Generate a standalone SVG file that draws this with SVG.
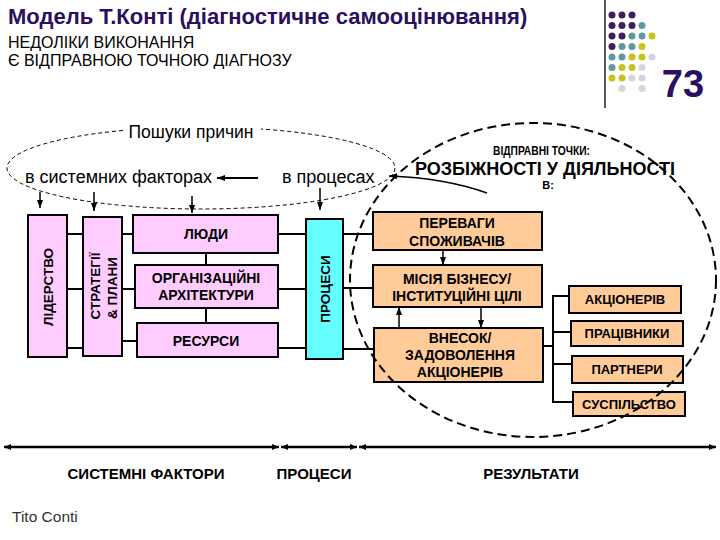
<svg xmlns="http://www.w3.org/2000/svg" width="720" height="540" viewBox="0 0 720 540">
<style>
text{font-family:"Liberation Sans",Arial,sans-serif;fill:#000}
.b{font-weight:bold}
.pk{fill:#ffccff;stroke:#000;stroke-width:2}
.cy{fill:#66ffff;stroke:#000;stroke-width:2}
.or{fill:#ffcc99;stroke:#000;stroke-width:2}
.ln{stroke:#000;stroke-width:2;fill:none}
.th{stroke:#000;stroke-width:1.5;fill:none}
.bx{font-size:14px;font-weight:bold;text-anchor:middle}
.sm{font-size:13px;font-weight:bold;text-anchor:middle}
.ax{font-size:15px;font-weight:bold;text-anchor:middle}
.p{fill:#3d1f5e}.t{fill:#5e98a0}.y{fill:#c9c21c}.g{fill:#d4d4e0}
</style>
<defs>
<marker id="ah" markerWidth="8" markerHeight="6" refX="8" refY="3" orient="auto-start-reverse" markerUnits="userSpaceOnUse">
<path d="M0,0 L8,3 L0,6 z" fill="#000"/>
</marker>
<marker id="ax" markerWidth="7" markerHeight="6" refX="7" refY="3" orient="auto-start-reverse" markerUnits="userSpaceOnUse">
<path d="M0,0 L7,3 L0,6 z" fill="#000"/>
</marker>
</defs>
<rect width="720" height="540" fill="#fff"/>

<g id="header">
<text x="8" y="24" class="b" style="font-size:22px;fill:#2a1060">Модель Т.Конті (діагностичне самооцінювання)</text>
<text x="8" y="48" style="font-size:16px">НЕДОЛІКИ ВИКОНАННЯ</text>
<text x="8" y="66" style="font-size:16px">Є ВІДПРАВНОЮ ТОЧНОЮ ДІАГНОЗУ</text>
<line x1="605" y1="0" x2="605" y2="108" stroke="#222" stroke-width="1.5"/>
<g id="dots">
<circle cx="612" cy="15" r="3.5" class="p"/><circle cx="622" cy="15" r="3.5" class="p"/><circle cx="632" cy="15" r="3.5" class="p"/>
<circle cx="612" cy="25.5" r="3.5" class="p"/><circle cx="622" cy="25.5" r="3.5" class="p"/><circle cx="632" cy="25.5" r="3.5" class="p"/><circle cx="642" cy="25.5" r="3.5" class="t"/>
<circle cx="612" cy="36" r="3.5" class="p"/><circle cx="622" cy="36" r="3.5" class="p"/><circle cx="632" cy="36" r="3.5" class="t"/><circle cx="642" cy="36" r="3.5" class="t"/><circle cx="652" cy="36" r="3.5" class="y"/>
<circle cx="612" cy="46.5" r="3.5" class="p"/><circle cx="622" cy="46.5" r="3.5" class="t"/><circle cx="632" cy="46.5" r="3.5" class="t"/><circle cx="642" cy="46.5" r="3.5" class="y"/>
<circle cx="612" cy="57" r="3.5" class="t"/><circle cx="622" cy="57" r="3.5" class="t"/><circle cx="632" cy="57" r="3.5" class="y"/><circle cx="642" cy="57" r="3.5" class="y"/><circle cx="652" cy="57" r="3.5" class="g"/>
<circle cx="612" cy="67.5" r="3.5" class="t"/><circle cx="622" cy="67.5" r="3.5" class="y"/><circle cx="632" cy="67.5" r="3.5" class="y"/><circle cx="642" cy="67.5" r="3.5" class="g"/>
<circle cx="612" cy="78" r="3.5" class="y"/><circle cx="622" cy="78" r="3.5" class="y"/><circle cx="632" cy="78" r="3.5" class="g"/><circle cx="642" cy="78" r="3.5" class="g"/>
<circle cx="622" cy="88.5" r="3.5" class="g"/><circle cx="642" cy="88.5" r="3.5" class="g"/>
</g>
<text x="683" y="97" class="b" text-anchor="middle" style="font-size:38px;fill:#2a1060">73</text>
</g>

<g id="search">
<ellipse cx="201" cy="168" rx="194" ry="41" fill="none" stroke="#000" stroke-width="1" stroke-dasharray="4 3"/>
<rect x="123" y="124" width="138" height="18" fill="#fff"/>
<text x="191" y="138" text-anchor="middle" style="font-size:17.5px">Пошуки причин</text>
<text x="25" y="183" style="font-size:18px">в системних факторах</text>
<text x="282" y="183" style="font-size:18px">в процесах</text>
</g>

<g id="connectors">
<line x1="258" y1="178" x2="217" y2="178" class="ln" marker-end="url(#ah)"/>
<line x1="40" y1="192" x2="40" y2="208" class="th" marker-end="url(#ah)"/>
<line x1="94" y1="192" x2="94" y2="211" class="th" marker-end="url(#ah)"/>
<line x1="192" y1="196" x2="192" y2="213" class="th" marker-end="url(#ah)"/>
<line x1="320" y1="188" x2="320" y2="210" class="th" marker-end="url(#ah)"/>
<path d="M487,193 Q445,178 389,176" class="th" marker-end="url(#ah)"/>
<line x1="67" y1="234" x2="83" y2="234" class="ln"/>
<line x1="67" y1="289" x2="83" y2="289" class="ln"/>
<line x1="67" y1="348" x2="83" y2="348" class="ln"/>
<line x1="122" y1="234" x2="133" y2="234" class="ln"/>
<line x1="122" y1="289" x2="135" y2="289" class="ln"/>
<line x1="122" y1="341" x2="137" y2="341" class="ln"/>
<line x1="206" y1="253" x2="206" y2="265" class="ln"/>
<line x1="206" y1="308" x2="206" y2="323" class="ln"/>
<line x1="278" y1="234" x2="306" y2="234" class="ln"/>
<line x1="278" y1="289" x2="306" y2="289" class="ln"/>
<line x1="278" y1="348" x2="306" y2="348" class="ln"/>
<line x1="343" y1="234" x2="373" y2="234" class="ln"/>
<line x1="343" y1="288" x2="373" y2="288" class="ln"/>
<line x1="343" y1="349" x2="374" y2="349" class="ln"/>
<line x1="443" y1="250" x2="443" y2="265" class="th" marker-end="url(#ah)"/>
<line x1="399" y1="328" x2="399" y2="307" class="th" marker-end="url(#ah)"/>
<line x1="481" y1="307" x2="481" y2="328" class="th" marker-end="url(#ah)"/>
<path d="M543,346 H553 M569,296 H553 V402 H573 M553,332 H571 M553,364 H572" class="ln"/>
<line x1="4" y1="447" x2="279" y2="447" stroke="#000" stroke-width="2.5" marker-start="url(#ax)" marker-end="url(#ax)"/>
<line x1="281" y1="447" x2="357" y2="447" stroke="#000" stroke-width="2.5" marker-start="url(#ax)" marker-end="url(#ax)"/>
<line x1="359" y1="447" x2="716" y2="447" stroke="#000" stroke-width="2.5" marker-start="url(#ax)" marker-end="url(#ax)"/>
</g>

<g id="n-lider"><rect x="28" y="215" width="39" height="142" class="pk"/>
<text transform="translate(52.5,287) rotate(-90)" class="bx" style="font-size:13.5px">ЛІДЕРСТВО</text></g>
<g id="n-strat"><rect x="83" y="217" width="39" height="139" class="pk"/>
<text transform="translate(100,286) rotate(-90)" class="bx" style="font-size:13.5px">СТРАТЕГІЇ</text>
<text transform="translate(117,288) rotate(-90)" class="bx" style="font-size:13.5px">&amp; ПЛАНИ</text></g>
<g id="n-lyudy"><rect x="133" y="215" width="145" height="38" class="pk"/>
<text x="206" y="239" class="bx">ЛЮДИ</text></g>
<g id="n-org"><rect x="135" y="265" width="143" height="43" class="pk"/>
<text x="206" y="283" class="bx">ОРГАНІЗАЦІЙНІ</text>
<text x="206" y="300" class="bx">АРХІТЕКТУРИ</text></g>
<g id="n-res"><rect x="137" y="323" width="141" height="34" class="pk"/>
<text x="206" y="346" class="bx">РЕСУРСИ</text></g>
<g id="n-proc"><rect x="306" y="219" width="37" height="140" class="cy"/>
<text transform="translate(330,289) rotate(-90)" class="bx" style="font-size:13.5px">ПРОЦЕСИ</text></g>

<g id="n-perevagy"><rect x="373" y="212" width="169" height="38" class="or"/>
<text x="457" y="228" class="bx">ПЕРЕВАГИ</text>
<text x="457" y="246" class="bx">СПОЖИВАЧІВ</text></g>
<g id="n-misia"><rect x="373" y="265" width="169" height="42" class="or"/>
<text x="457" y="284" class="bx">МІСІЯ БІЗНЕСУ/</text>
<text x="457" y="301" class="bx">ІНСТИТУЦІЙНІ ЦІЛІ</text></g>
<g id="n-vnesok"><rect x="374" y="328" width="169" height="54" class="or"/>
<text x="460" y="343" class="bx">ВНЕСОК/</text>
<text x="460" y="360" class="bx">ЗАДОВОЛЕННЯ</text>
<text x="460" y="377" class="bx">АКЦІОНЕРІВ</text></g>
<g id="n-akc"><rect x="569" y="286" width="112" height="27" class="or"/>
<text x="625" y="304" class="sm">АКЦІОНЕРІВ</text></g>
<g id="n-prac"><rect x="571" y="321" width="112" height="25" class="or"/>
<text x="627" y="338" class="sm">ПРАЦІВНИКИ</text></g>
<g id="n-part"><rect x="572" y="356" width="111" height="27" class="or"/>
<text x="627" y="374" class="sm">ПАРТНЕРИ</text></g>
<g id="n-susp"><rect x="573" y="392" width="112" height="24" class="or"/>
<text x="629" y="409" class="sm">СУСПІЛЬСТВО</text></g>

<g id="results">
<ellipse cx="533" cy="280" rx="183" ry="157" fill="none" stroke="#000" stroke-width="2" stroke-dasharray="9 5"/>
<text x="493" y="155" class="b" textLength="97" lengthAdjust="spacingAndGlyphs" style="font-size:12.5px">ВІДПРАВНІ ТОЧКИ:</text>
<text x="545" y="175" class="b" text-anchor="middle" style="font-size:18px">РОЗБІЖНОСТІ У ДІЯЛЬНОСТІ</text>
<text x="548" y="189" class="b" text-anchor="middle" style="font-size:11px">В:</text>
</g>

<g id="axis-labels">
<text x="146" y="479" class="ax">СИСТЕМНІ ФАКТОРИ</text>
<text x="314" y="479" class="ax">ПРОЦЕСИ</text>
<text x="531" y="479" class="ax">РЕЗУЛЬТАТИ</text>
<text x="12" y="522" style="font-size:15.5px;fill:#333">Tito Conti</text>
</g>
</svg>
